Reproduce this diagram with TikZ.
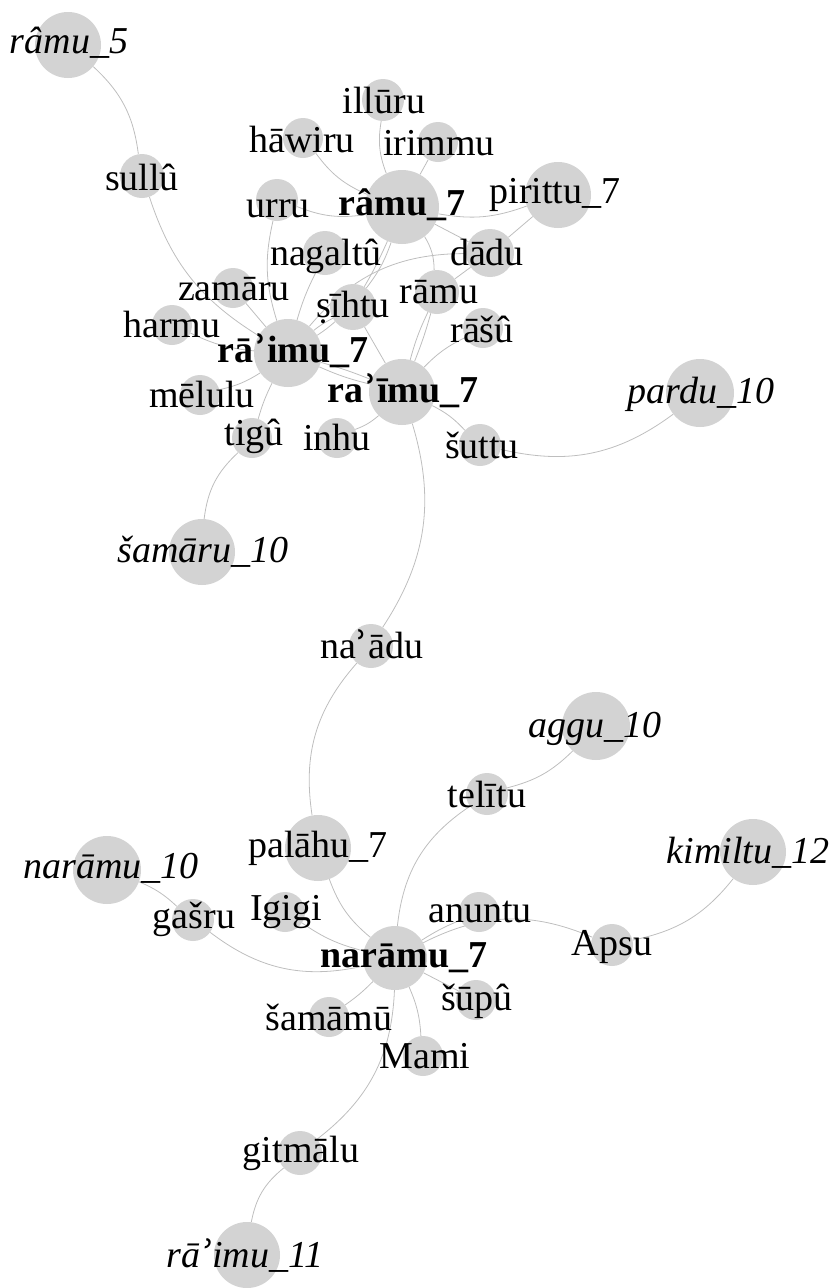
\documentclass[tikz,border=0pt]{standalone}
\usepackage{fontspec}
\setmainfont{Liberation Serif}
\newfontfamily\dvs{DejaVu Serif}
\definecolor{nodegray}{RGB}{211,211,211}
\definecolor{edgegray}{RGB}{190,190,190}
\pgfdeclarelayer{edgelayer}
\pgfsetlayers{edgelayer,main}
\tikzset{
  vtx/.style={circle, fill=nodegray, draw=none, inner sep=0pt, minimum size=#1},
  lbl/.style={anchor=base, inner sep=0pt, font=\fontsize{38}{40}\selectfont},
  lbli/.style={lbl, font=\fontsize{38}{40}\selectfont\itshape},
  lblb/.style={lbl, font=\fontsize{38}{40}\selectfont\bfseries},
  edge/.style={draw=edgegray, line width=0.8pt}
}
\begin{document}
\begin{tikzpicture}[x=1pt,y=-1pt]
\useasboundingbox (0,0) rectangle (835,1288);
% circles
\node[vtx=66] (r5) at (68,45) {};
\node[vtx=44] (sullu) at (142,176) {};
\node[vtx=40] (hawiru) at (303,138) {};
\node[vtx=42] (illuru) at (383,100) {};
\node[vtx=40] (irimmu) at (438,142) {};
\node[vtx=42] (urru) at (277,200) {};
\node[vtx=74] (ramuS) at (402,207) {};
\node[vtx=66] (pirittu) at (558,195) {};
\node[vtx=44] (nagaltu) at (325,253) {};
\node[vtx=48] (dadu) at (490,253) {};
\node[vtx=40] (zamaru) at (233,288) {};
\node[vtx=46] (sihtu) at (353,307) {};
\node[vtx=44] (ramu) at (437,292) {};
\node[vtx=40] (harmu) at (172,325) {};
\node[vtx=40] (rasu) at (483,328) {};
\node[vtx=68] (raimuA) at (288,353) {};
\node[vtx=40] (melulu) at (200,395) {};
\node[vtx=66] (raimuB) at (402,392) {};
\node[vtx=40] (tigu) at (252,438) {};
\node[vtx=40] (inhu) at (337,438) {};
\node[vtx=42] (suttu) at (480,445) {};
\node[vtx=68] (pardu) at (700,393) {};
\node[vtx=66] (samaru) at (202,552) {};
\node[vtx=44] (naadu) at (371,646) {};
\node[vtx=66] (palahu) at (318,848) {};
\node[vtx=68] (naramuX) at (107,870) {};
\node[vtx=42] (gasru) at (193,920) {};
\node[vtx=40] (igigi) at (285,912) {};
\node[vtx=64] (naramu) at (395,958) {};
\node[vtx=68] (aggu) at (596,726) {};
\node[vtx=42] (telitu) at (487,794) {};
\node[vtx=66] (kimiltu) at (753,852) {};
\node[vtx=40] (anuntu) at (479,912) {};
\node[vtx=42] (apsu) at (612,945) {};
\node[vtx=40] (supu) at (476,1000) {};
\node[vtx=40] (samamu) at (329,1017) {};
\node[vtx=40] (mami) at (423,1056) {};
\node[vtx=44] (gitmalu) at (300,1153) {};
\node[vtx=66] (raimuC) at (247,1255) {};
% edges
\begin{pgfonlayer}{edgelayer}
\draw[edge] (r5) to[bend left=20] (sullu);
\draw[edge] (sullu) to[bend right=20] (raimuA);
\draw[edge] (hawiru) to[bend right=15] (ramuS);
\draw[edge] (illuru) to[bend right=15] (ramuS);
\draw[edge] (irimmu) to (ramuS);
\draw[edge] (urru) to[bend right=15] (ramuS);
\draw[edge] (ramuS) to[bend right=15] (pirittu);
\draw[edge] (ramuS) to (dadu);
\draw[edge] (pirittu) to (dadu);
\draw[edge] (dadu) to[bend right=25] (raimuA);
\draw[edge] (ramu) to (dadu);
\draw[edge] (ramuS) to[bend left=15] (ramu);
\draw[edge] (ramuS) to[bend left=3] (sihtu);
\draw[edge] (ramuS) to[bend left=9] (sihtu);
\draw[edge] (sihtu) to[bend left=4] (raimuA);
\draw[edge] (sihtu) to[bend right=6] (raimuA);
\draw[edge] (sihtu) to (raimuB);
\draw[edge] (nagaltu) to[bend right=5] (raimuA);
\draw[edge] (urru) to[bend right=15] (raimuA);
\draw[edge] (zamaru) to (raimuA);
\draw[edge] (harmu) to[bend right=10] (raimuA);
\draw[edge] (melulu) to[bend right=10] (raimuA);
\draw[edge] (tigu) to[bend left=5] (raimuA);
\draw[edge] (raimuA) to[bend left=3] (raimuB);
\draw[edge] (raimuA) to[bend right=5] (raimuB);
\draw[edge] (ramu) to[bend left=3] (raimuB);
\draw[edge] (ramu) to[bend right=5] (raimuB);
\draw[edge] (rasu) to[bend right=10] (raimuB);
\draw[edge] (inhu) to[bend right=10] (raimuB);
\draw[edge] (raimuB) to[bend left=10] (suttu);
\draw[edge] (suttu) to[bend right=25] (pardu);
\draw[edge] (tigu) to[bend right=20] (samaru);
\draw[edge] (raimuB) to[bend left=25] (naadu);
\draw[edge] (naadu) to[bend right=25] (palahu);
\draw[edge] (palahu) to[bend right=15] (naramu);
\draw[edge] (naramuX) to[bend left=10] (gasru);
\draw[edge] (gasru) to[bend right=25] (naramu);
\draw[edge] (igigi) to[bend right=10] (naramu);
\draw[edge] (naramu) to[bend left=25] (telitu);
\draw[edge] (telitu) to[bend right=15] (aggu);
\draw[edge] (naramu) to[bend left=5] (anuntu);
\draw[edge] (naramu) to[bend left=25] (apsu);
\draw[edge] (apsu) to[bend right=20] (kimiltu);
\draw[edge] (naramu) to (supu);
\draw[edge] (naramu) to[bend left=5] (samamu);
\draw[edge] (naramu) to[bend left=10] (mami);
\draw[edge] (naramu) to[bend left=25] (gitmalu);
\draw[edge] (gitmalu) to[bend right=20] (raimuC);
\end{pgfonlayer}
% labels
\node[lbli] (t-r5) at (69,53) {râmu\_5};
\node[lbl] (t-sullu) at (142,190) {sullû};
\node[lbl] (t-hawiru) at (302,152) {hāwiru};
\node[lbl] (t-illuru) at (384,113) {illūru};
\node[lbl] (t-irimmu) at (439,155) {irimmu};
\node[lbl] (t-urru) at (278,217) {urru};
\node[lblb] (t-ramuS) at (402,215) {râmu\_7};
\node[lbl] (t-pirittu) at (555,203) {pirittu\_7};
\node[lbl] (t-nagaltu) at (326,265) {nagaltû};
\node[lbl] (t-dadu) at (487,265) {dādu};
\node[lbl] (t-zamaru) at (234,300) {zamāru};
\node[lbl] (t-sihtu) at (353,317) {ṣīhtu};
\node[lbl] (t-ramu) at (439,303) {rāmu};
\node[lbl] (t-harmu) at (172,337) {harmu};
\node[lbl] (t-rasu) at (482,342) {rāšû};
\node[lblb] (t-raimuA) at (293,362) {rā{\dvs ʾ}imu\_7};
\node[lbl] (t-melulu) at (202,407) {mēlulu};
\node[lblb] (t-raimuB) at (403,402) {ra{\dvs ʾ}īmu\_7};
\node[lbl] (t-tigu) at (254,445) {tigû};
\node[lbl] (t-inhu) at (337,450) {inhu};
\node[lbl] (t-suttu) at (482,458) {šuttu};
\node[lbli] (t-pardu) at (701,403) {pardu\_10};
\node[lbli] (t-samaru) at (203,562) {šamāru\_10};
\node[lbl] (t-naadu) at (372,658) {na{\dvs ʾ}ādu};
\node[lbl] (t-palahu) at (318,857) {palāhu\_7};
\node[lbli] (t-naramuX) at (111,878) {narāmu\_10};
\node[lbl] (t-gasru) at (194,928) {gašru};
\node[lbl] (t-igigi) at (286,920) {Igigi};
\node[lblb] (t-naramu) at (404,967) {narāmu\_7};
\node[lbli] (t-aggu) at (595,737) {aggu\_10};
\node[lbl] (t-telitu) at (487,807) {telītu};
\node[lbli] (t-kimiltu) at (748,863) {kimiltu\_12};
\node[lbl] (t-anuntu) at (480,922) {anuntu};
\node[lbl] (t-apsu) at (612,955) {Apsu};
\node[lbl] (t-supu) at (477,1010) {šūpû};
\node[lbl] (t-samamu) at (329,1030) {šamāmū};
\node[lbl] (t-mami) at (425,1068) {Mami};
\node[lbl] (t-gitmalu) at (301,1162) {gitmālu};
\node[lbli] (t-raimuC) at (245,1267) {rā{\dvs ʾ}imu\_11};
\end{tikzpicture}
\end{document}
